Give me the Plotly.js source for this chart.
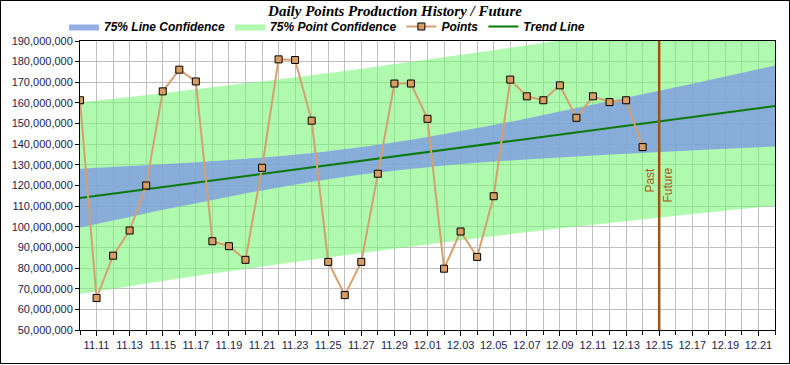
<!DOCTYPE html>
<html>
<head>
<meta charset="utf-8">
<script src="https://cdn.plot.ly/plotly-3.0.1.min.js"></script>
<style>
  html, body { margin: 0; padding: 0; background: #fff; }
  #wrap { position: relative; width: 790px; height: 365px; }
  #chart { position: absolute; left: 0; top: 0; width: 790px; height: 365px; }
  #frame { position: absolute; left: 0; top: 0; width: 790px; height: 364px; box-sizing: border-box; border: 1px solid #000; pointer-events: none; }
</style>
</head>
<body>
<div id="wrap"><div id="chart"></div><div id="frame"></div></div>
<script>
// Daily points (history)
const pointDates = [
  '2023-11-10','2023-11-11','2023-11-12','2023-11-13','2023-11-14','2023-11-15','2023-11-16',
  '2023-11-17','2023-11-18','2023-11-19','2023-11-20','2023-11-21','2023-11-22','2023-11-23',
  '2023-11-24','2023-11-25','2023-11-26','2023-11-27','2023-11-28','2023-11-29','2023-11-30',
  '2023-12-01','2023-12-02','2023-12-03','2023-12-04','2023-12-05','2023-12-06','2023-12-07',
  '2023-12-08','2023-12-09','2023-12-10','2023-12-11','2023-12-12','2023-12-13','2023-12-14'
];
const pointValues = [
  161300000, 65500000, 86000000, 98200000, 120000000, 165600000, 176100000,
  170400000, 93000000, 90600000, 84000000, 128600000, 181100000, 180800000,
  151400000, 83000000, 66900000, 83000000, 125700000, 169400000, 169400000,
  152300000, 79700000, 97700000, 85400000, 114800000, 171300000, 163200000,
  161300000, 168500000, 152800000, 163200000, 160400000, 161300000, 138600000
];

// Trend line (endpoints)
const trendDates = ['2023-11-10', '2023-12-22'];
const trendValues = [113900000, 158500000];

// Confidence bands (read at sample dates)
const bandDates = [
  '2023-11-10','2023-11-13','2023-11-16','2023-11-19','2023-11-22','2023-11-25','2023-11-27','2023-11-28',
  '2023-12-01','2023-12-04','2023-12-07','2023-12-10','2023-12-13','2023-12-16','2023-12-19','2023-12-22'
];
const lineUpper = [128100000,129400000,130800000,132400000,134200000,136600000,138600000,139700000,
                   143500000,147800000,152500000,157500000,162500000,167600000,172800000,178100000];
const lineLower = [99700000,104800000,109800000,114600000,119000000,123000000,125300000,126300000,
                   128900000,131000000,132600000,134100000,135400000,136600000,137800000,138900000];
const pointUpper = [160300000,162900000,165700000,168600000,171400000,174500000,176600000,177700000,
                    181000000,184400000,187900000,191500000,195100000,198900000,202800000,206800000];
const pointLower = [67500000,71200000,74900000,78400000,81800000,85100000,87300000,88300000,
                    91400000,94400000,97300000,100100000,102700000,105300000,107800000,110200000];

const splitDate = '2023-12-15';
const axisFont = {family: 'Liberation Sans, Arial, sans-serif', size: 11, color: '#1c1c4c'};
const DAY = 86400000;

const traces = [
  {x: bandDates, y: pointLower, mode: 'lines', line: {width: 0, shape: 'spline'},
   showlegend: false, hoverinfo: 'skip'},
  {x: bandDates, y: pointUpper, mode: 'lines', line: {width: 0, shape: 'spline'},
   fill: 'tonexty', fillcolor: 'rgba(121,246,121,0.59)', name: '75% Point Confidence', legendrank: 2},
  {x: bandDates, y: lineLower, mode: 'lines', line: {width: 0, shape: 'spline'},
   showlegend: false, hoverinfo: 'skip'},
  {x: bandDates, y: lineUpper, mode: 'lines', line: {width: 0, shape: 'spline'},
   fill: 'tonexty', fillcolor: 'rgba(126,156,224,0.82)', name: '75% Line Confidence', legendrank: 1},
  {x: trendDates, y: trendValues, mode: 'lines', line: {color: '#0a7a0a', width: 2},
   name: 'Trend Line', legendrank: 4},
  {x: pointDates, y: pointValues, mode: 'lines+markers',
   line: {color: '#d6a06e', width: 2},
   marker: {symbol: 'square', size: 7, color: '#d99c62', line: {color: '#000', width: 1}},
   name: 'Points', legendrank: 3}
];

const layout = {
  width: 790, height: 365,
  margin: {l: 80, r: 15, t: 35, b: 35},
  paper_bgcolor: '#fff', plot_bgcolor: '#fff',
  font: {family: 'Liberation Sans, Arial, sans-serif', size: 11, color: '#000'},
  title: {text: 'Daily Points Production History / Future', xref: 'container', x: 0.5,
          y: 0.97, yanchor: 'middle',
          font: {family: 'Liberation Serif, Times New Roman, serif', size: 15, weight: 'bold', style: 'italic', color: '#000'}},
  showlegend: true,
  legend: {orientation: 'h', x: -0.023, xanchor: 'left', y: 1, yanchor: 'bottom',
           font: {family: 'Liberation Sans, Arial, sans-serif', size: 12, weight: 'bold', style: 'italic', color: '#000'},
           bgcolor: 'rgba(0,0,0,0)', traceorder: 'normal', itemclick: false},
  xaxis: {type: 'date', range: ['2023-11-10', '2023-12-22'],
          tick0: '2023-11-11', dtick: 2 * DAY, tickformat: '%m.%d',
          ticks: 'outside', ticklen: 5, tickcolor: '#000', tickfont: axisFont,
          showgrid: true, gridcolor: '#c0c0c0', gridwidth: 1,
          minor: {dtick: DAY, tick0: '2023-11-10', ticks: 'outside', ticklen: 4, tickcolor: '#000', showgrid: true, gridcolor: '#c0c0c0', gridwidth: 1},
          showline: true, linecolor: '#000', linewidth: 1, mirror: true, zeroline: false, fixedrange: true},
  yaxis: {range: [50000000, 190000000], dtick: 10000000, tick0: 0, tickformat: ',d',
          ticks: 'outside', ticklen: 4, tickcolor: '#000', tickfont: axisFont,
          showgrid: true, gridcolor: '#c0c0c0', gridwidth: 1,
          showline: true, linecolor: '#000', linewidth: 1, mirror: true, zeroline: false, fixedrange: true},
  shapes: [
    {type: 'line', xref: 'x', yref: 'paper', x0: splitDate, x1: splitDate, y0: 0, y1: 1,
     line: {color: '#a0520a', width: 2.5}, layer: 'above'}
  ],
  annotations: [
    {x: splitDate, y: 129500000, xref: 'x', yref: 'y', text: 'Past', textangle: -90, showarrow: false,
     xanchor: 'right', yanchor: 'top', xshift: 0,
     font: {family: 'Liberation Sans, Arial, sans-serif', size: 12, color: '#a8580c'}},
    {x: splitDate, y: 129500000, xref: 'x', yref: 'y', text: 'Future', textangle: -90, showarrow: false,
     xanchor: 'left', yanchor: 'top', xshift: 0,
     font: {family: 'Liberation Sans, Arial, sans-serif', size: 12, color: '#a8580c'}}
  ]
};

Plotly.newPlot('chart', traces, layout, {displayModeBar: false, staticPlot: true});
</script>
</body>
</html>
